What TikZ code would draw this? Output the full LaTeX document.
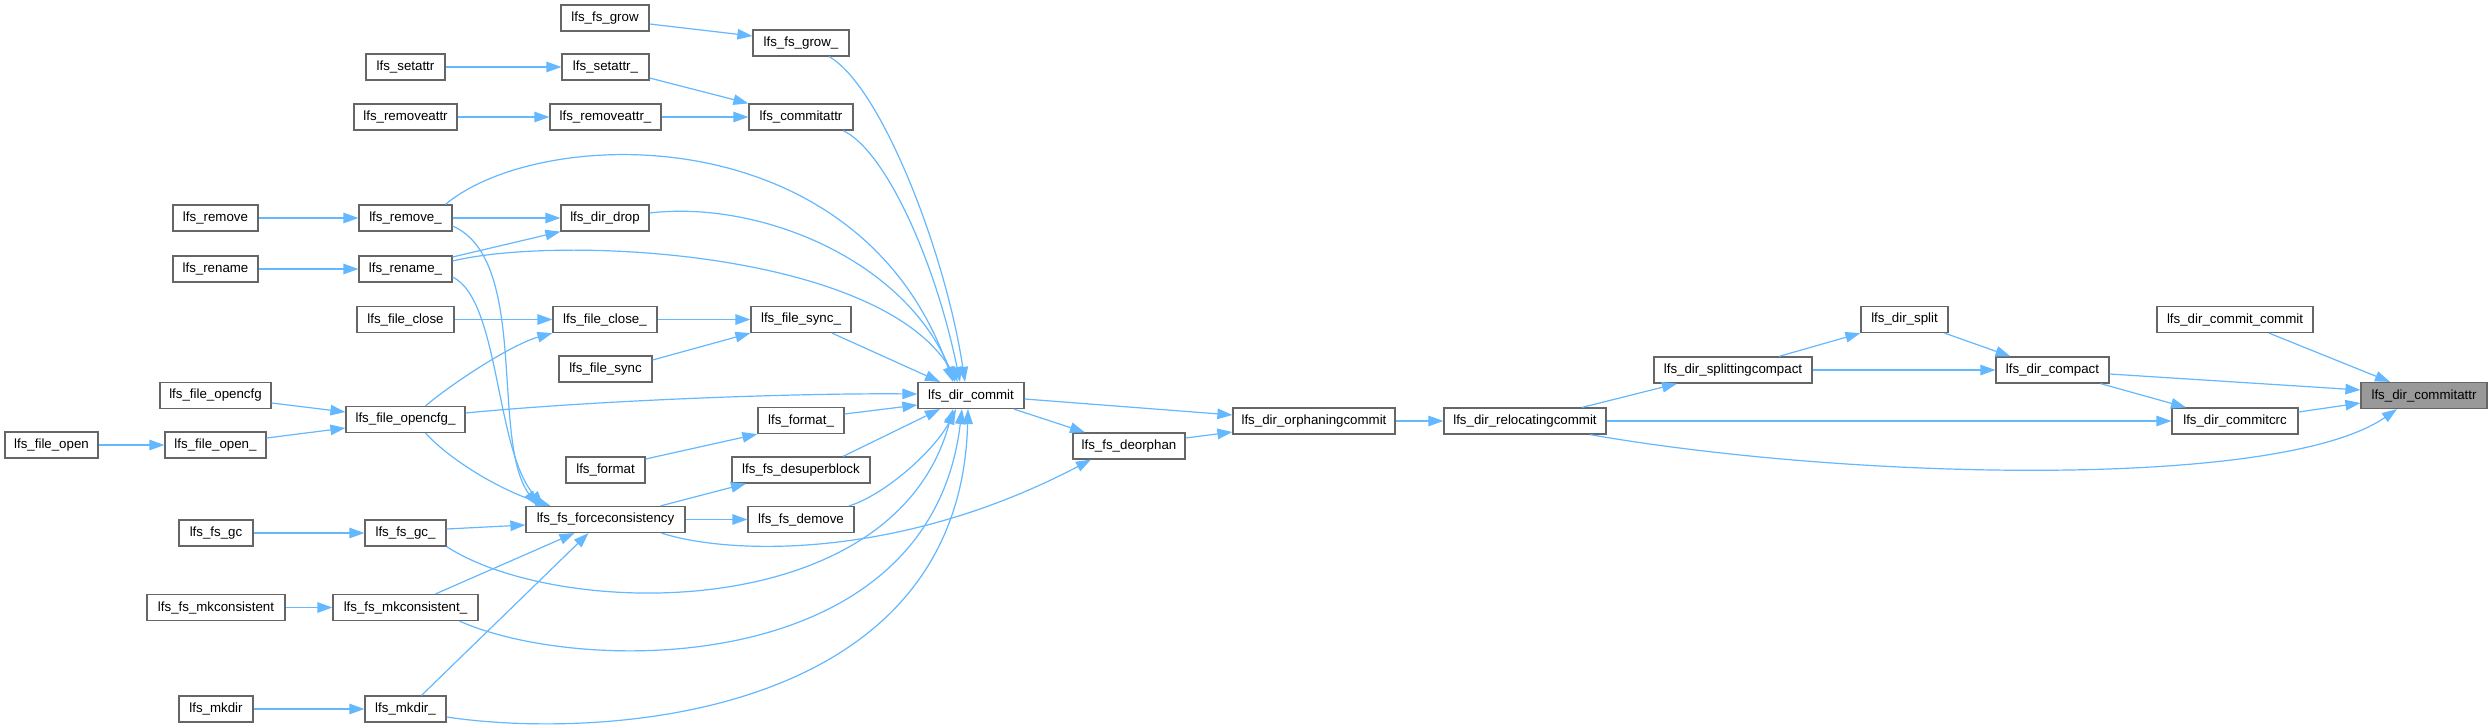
\documentclass[tikz,border=0pt]{standalone}
\usepackage{fontspec}
\setmainfont{Liberation Sans}
\usetikzlibrary{arrows.meta}
\definecolor{edgeblue}{HTML}{63B8FF}
\definecolor{nodegray}{HTML}{666666}
\definecolor{hilite}{HTML}{999999}
\tikzset{
  box/.style={draw=nodegray, line width=1.2pt, fill=white, minimum height=26pt, inner sep=0pt,
    font=\fontsize{13.3}{16}\selectfont},
  e/.style={draw=edgeblue, line width=1.2pt, -{Triangle[length=15pt,width=10.5pt]}}
}
\begin{document}
\begin{tikzpicture}[x=1pt,y=-1pt]
\useasboundingbox[fill=white] (0,0) rectangle (2492,728);
% nodes
\node[box, minimum width=88pt] (fsgrow) at (605,18) {lfs\_fs\_grow};
\node[box, minimum width=96pt] (fsgrowu) at (801,43) {lfs\_fs\_grow\_};
\node[box, minimum width=79pt] (setattr) at (405.5,67) {lfs\_setattr};
\node[box, minimum width=87pt] (setattru) at (605.5,67) {lfs\_setattr\_};
\node[box, minimum width=103pt] (removeattr) at (405.5,117) {lfs\_removeattr};
\node[box, minimum width=111pt] (removeattru) at (605.5,117) {lfs\_removeattr\_};
\node[box, minimum width=104pt] (commitattr) at (801,117) {lfs\_commitattr};
\node[box, minimum width=85pt] (remove) at (215.5,218) {lfs\_remove};
\node[box, minimum width=93pt] (removeu) at (405.5,218) {lfs\_remove\_};
\node[box, minimum width=88pt] (dirdrop) at (605,218) {lfs\_dir\_drop};
\node[box, minimum width=85pt] (rename) at (215.5,269) {lfs\_rename};
\node[box, minimum width=93pt] (renameu) at (405.5,269) {lfs\_rename\_};
\node[box, minimum width=97pt] (fileclose) at (405.5,319.5) {lfs\_file\_close};
\node[box, minimum width=104pt] (filecloseu) at (605,319.5) {lfs\_file\_close\_};
\node[box, minimum width=100pt] (filesyncu) at (801,319.5) {lfs\_file\_sync\_};
\node[box, minimum width=93pt] (filesync) at (605.5,369) {lfs\_file\_sync};
\node[box, minimum width=111pt] (opencfg) at (215.5,395.5) {lfs\_file\_opencfg};
\node[box, minimum width=119pt] (opencfgu) at (405.5,419.5) {lfs\_file\_opencfg\_};
\node[box, minimum width=106pt] (dircommit) at (971,395.5) {lfs\_dir\_commit};
\node[box, minimum width=93pt] (fileopen) at (51.5,445) {lfs\_file\_open};
\node[box, minimum width=101pt] (fileopenu) at (215.5,445) {lfs\_file\_open\_};
\node[box, minimum width=86pt] (formatu) at (801,420.5) {lfs\_format\_};
\node[box, minimum width=79pt] (format) at (605.5,470) {lfs\_format};
\node[box, minimum width=138pt] (desuper) at (801,470) {lfs\_fs\_desuperblock};
\node[box, minimum width=159pt] (force) at (605.5,519.5) {lfs\_fs\_forceconsistency};
\node[box, minimum width=106pt] (demove) at (801,519.5) {lfs\_fs\_demove};
\node[box, minimum width=74pt] (gc) at (216,533) {lfs\_fs\_gc};
\node[box, minimum width=81pt] (gcu) at (405.5,533) {lfs\_fs\_gc\_};
\node[box, minimum width=138pt] (mkc) at (216,607.5) {lfs\_fs\_mkconsistent};
\node[box, minimum width=145pt] (mkcu) at (405.5,607.5) {lfs\_fs\_mkconsistent\_};
\node[box, minimum width=74pt] (mkdir) at (216,709) {lfs\_mkdir};
\node[box, minimum width=81pt] (mkdiru) at (405.5,709) {lfs\_mkdir\_};
\node[box, minimum width=112pt] (deorphan) at (1129,446) {lfs\_fs\_deorphan};
\node[box, minimum width=162pt] (orphan) at (1314,421) {lfs\_dir\_orphaningcommit};
\node[box, minimum width=162pt] (reloc) at (1525,421) {lfs\_dir\_relocatingcommit};
\node[box, minimum width=158pt] (splitting) at (1733,370) {lfs\_dir\_splittingcompact};
\node[box, minimum width=87pt] (split) at (1904.5,319.5) {lfs\_dir\_split};
\node[box, minimum width=156pt] (commitcommit) at (2235,319.5) {lfs\_dir\_commit\_commit};
\node[box, minimum width=113pt] (compact) at (2052.5,370) {lfs\_dir\_compact};
\node[box, minimum width=126pt, fill=hilite] (commitattrx) at (2424,395.5) {lfs\_dir\_commitattr};
\node[box, minimum width=126pt] (commitcrc) at (2235,421) {lfs\_dir\_commitcrc};
% edges
\draw[e] ([yshift=-6pt]fsgrow.east) -- ([yshift=7pt]fsgrowu.west);
\draw[e] (setattr) -- (setattru);
\draw[e] (removeattr) -- (removeattru);
\draw[e] ([yshift=-11pt]setattru.east) -- (commitattr.north west);
\draw[e] (removeattru) -- (commitattr);
\draw[e] ([xshift=28pt]fsgrowu.south) .. controls (880,85) and (945,250) .. ([xshift=-6pt]dircommit.north);
\draw[e] ([xshift=42pt]commitattr.south) .. controls (885,150) and (935,260) .. ([xshift=-11pt]dircommit.north);
\draw[e] (remove) -- (removeu);
\draw[e] (removeu) -- (dirdrop);
\draw[e] ([xshift=40pt]removeu.north) .. controls (540,125) and (860,115) .. ([xshift=-18pt]dircommit.north);
\draw[e] ([yshift=-8pt]removeu.east) .. controls (530,260) and (490,440) .. ([xshift=-68pt]force.north);
\draw[e] ([yshift=5pt]dirdrop.east) .. controls (760,200) and (905,260) .. ([xshift=-16pt]dircommit.north);
\draw[e] (rename) -- (renameu);
\draw[e] ([yshift=12pt]renameu.east) -- (dirdrop.south west);
\draw[e] ([yshift=8pt]renameu.east) .. controls (560,235) and (880,250) .. ([xshift=-13pt]dircommit.north);
\draw[e] ([yshift=-8pt]renameu.east) .. controls (500,300) and (495,450) .. ([xshift=-62pt]force.north);
\draw[e] (fileclose) -- (filecloseu);
\draw[e] (filecloseu) -- (filesyncu);
\draw[e] ([yshift=9pt]filesync.east) -- (filesyncu.south west);
\draw[e] ([xshift=31pt]filesyncu.south) -- ([xshift=-31pt]dircommit.north);
\draw[e] ([xshift=20pt]opencfgu.north) .. controls (450,385) and (510,345) .. (filecloseu.south west);
\draw[e] ([yshift=-7.5pt]opencfg.east) -- ([yshift=7.5pt]opencfgu.west);
\draw[e] (fileopen) -- (fileopenu);
\draw[e] ([yshift=7pt]fileopenu.east) -- ([yshift=-8.5pt]opencfgu.west);
\draw[e] ([yshift=6.5pt]opencfgu.east) .. controls (600,400) and (800,393) .. ([yshift=1.5pt]dircommit.west);
\draw[e] ([xshift=20pt]opencfgu.south) .. controls (450,460) and (500,490) .. ([xshift=-55pt]force.north);
\draw[e] ([yshift=11pt]format.east) -- (formatu.south west);
\draw[e] ([yshift=6.5pt]formatu.east) -- ([yshift=-9.5pt]dircommit.west);
\draw[e] ([xshift=42pt]desuper.north) -- ([xshift=-31pt]dircommit.south);
\draw[e] ([xshift=55pt]force.north) -- ([xshift=-55pt]desuper.south);
\draw[e] (force) -- (demove);
\draw[e] ([xshift=48pt]demove.north) .. controls (885,495) and (935,450) .. ([xshift=-15pt]dircommit.south);
\draw[e] ([xshift=56pt]force.south) .. controls (730,555) and (900,560) .. ([xshift=-38pt]deorphan.south);
\draw[e] (gc) -- (gcu);
\draw[e] ([yshift=4pt]gcu.east) -- ([yshift=-5.5pt]force.west);
\draw[e] (gcu.south east) .. controls (560,620) and (895,625) .. ([xshift=-18pt]dircommit.south);
\draw[e] (mkc) -- (mkcu);
\draw[e] ([xshift=30pt]mkcu.north) -- ([xshift=-31pt]force.south);
\draw[e] ([xshift=54pt]mkcu.south) .. controls (580,675) and (930,680) .. ([xshift=-9pt]dircommit.south);
\draw[e] (mkdir) -- (mkdiru);
\draw[e] ([xshift=16pt]mkdiru.north) -- ([xshift=-17pt]force.south);
\draw[e] ([yshift=-8pt]mkdiru.east) .. controls (600,740) and (960,720) .. ([xshift=-3pt]dircommit.south);
\draw[e] ([yshift=-3.5pt]dircommit.east) -- ([yshift=6pt]orphan.west);
\draw[e] ([xshift=43pt]dircommit.south) -- ([xshift=-44pt]deorphan.north);
\draw[e] ([yshift=8pt]deorphan.east) -- ([yshift=-11pt]orphan.west);
\draw[e] (orphan) -- (reloc);
\draw[e] ([xshift=57pt]reloc.north) -- ([xshift=-56pt]splitting.south);
\draw[e] (reloc) -- (commitcrc);
\draw[e] ([xshift=65pt]reloc.south) .. controls (1850,480) and (2280,490) .. ([xshift=-27pt]commitattrx.south);
\draw[e] ([xshift=46pt]splitting.north) -- (split.south west);
\draw[e] (splitting) -- (compact);
\draw[e] ([xshift=40pt]split.south) -- ([xshift=-42pt]compact.north);
\draw[e] ([yshift=-4pt]compact.east) -- ([yshift=5.5pt]commitattrx.west);
\draw[e] ([xshift=48pt]compact.south) -- ([xshift=-49pt]commitcrc.north);
\draw[e] ([yshift=9pt]commitcrc.east) -- ([yshift=-7.5pt]commitattrx.west);
\draw[e] ([xshift=34pt]commitcommit.south) -- ([xshift=-34pt]commitattrx.north);
\end{tikzpicture}
\end{document}
